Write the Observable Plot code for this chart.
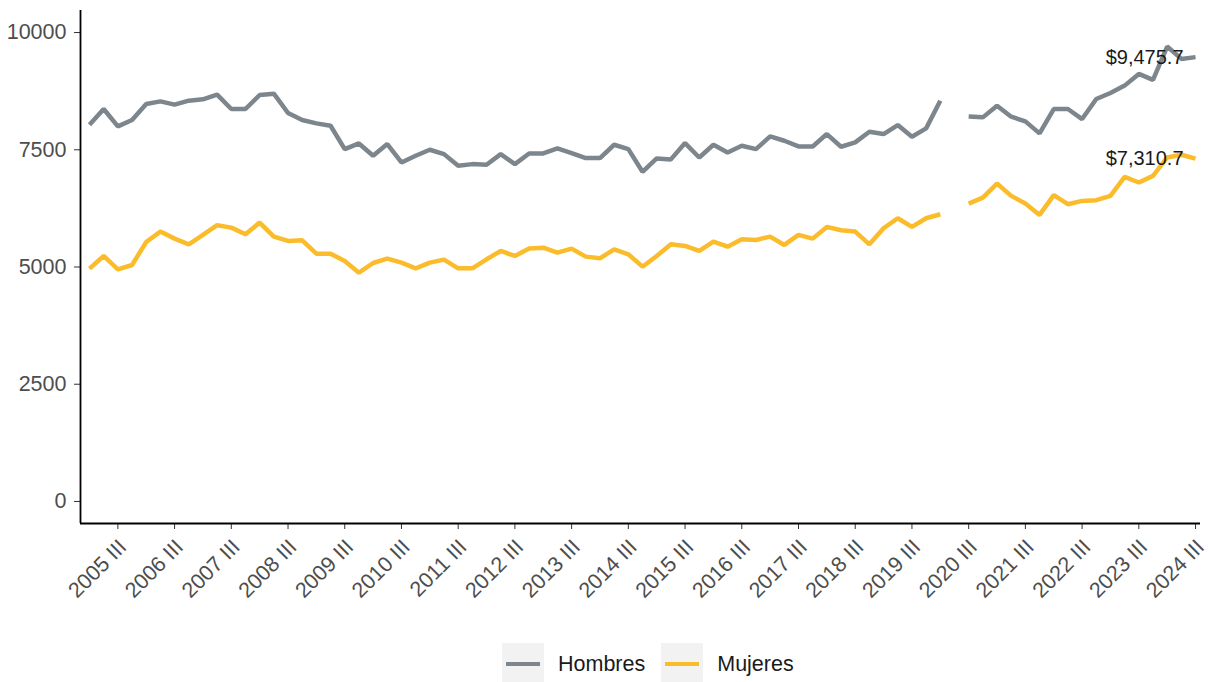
<!DOCTYPE html>
<html>
<head>
<meta charset="utf-8">
<script src="https://cdn.jsdelivr.net/npm/d3@7"></script>
<script src="https://cdn.jsdelivr.net/npm/@observablehq/plot@0.6"></script>
<style>
  html, body { margin: 0; padding: 0; background: #ffffff; }
  body { width: 1210px; height: 682px; overflow: hidden; font-family: "Liberation Sans", Arial, sans-serif; }
  #legend { display: flex; justify-content: flex-start; align-items: center; padding-left: 502px; margin-top: 13px; font-size: 21.5px; color: #1a1a1a; }
  .key { width: 42px; height: 42px; background: #f2f2f2; display: flex; align-items: center; justify-content: center; }
  .key span { display: block; width: 34px; height: 4.5px; }
  .lab { margin-left: 14px; margin-right: 16px; }
</style>
</head>
<body>
<div id="chart"></div>
<div id="legend"></div>
<script>
// Quarterly series, 2005 I .. 2024 III (2020 II missing)
const years = d3.range(2005, 2025);
const quarterNames = ["I", "II", "III", "IV"];
const hombres = [
  8034, 8369, 7998, 8134, 8476, 8532, 8462, 8547, 8575, 8675,
  8369, 8369, 8668, 8697, 8284, 8134, 8063, 8013, 7514, 7635,
  7372, 7621, 7229, 7372, 7500, 7407, 7158, 7194, 7179, 7407,
  7194, 7422, 7422, 7529, 7429, 7322, 7322, 7607, 7514, 7030,
  7315, 7295, 7643, 7336, 7607, 7443, 7586, 7514, 7785, 7692,
  7571, 7571, 7835, 7564, 7657, 7885, 7835, 8027, 7778, 7956,
  8547, null, 8212, 8191, 8440, 8205, 8105, 7849, 8369, 8369,
  8155, 8583, 8711, 8868, 9117, 8989, 9701, 9438, 9475.7
];
const mujeres = [
  4964, 5235, 4950, 5043, 5534, 5755, 5605, 5484, 5684, 5891,
  5840, 5698, 5947, 5648, 5556, 5570, 5285, 5285, 5128, 4879,
  5085, 5178, 5093, 4972, 5093, 5157, 4972, 4972, 5164, 5342,
  5235, 5392, 5413, 5306, 5392, 5221, 5185, 5378, 5271, 5007,
  5235, 5485, 5449, 5342, 5541, 5434, 5591, 5577, 5648, 5470,
  5684, 5605, 5855, 5784, 5755, 5484, 5826, 6040, 5855, 6040,
  6125, null, 6353, 6481, 6780, 6517, 6353, 6111, 6532, 6339,
  6410, 6425, 6517, 6923, 6802, 6944, 7336, 7393, 7310.7
];
const seriesNames = ["Hombres", "Mujeres"];
const seriesColors = ["#7d868c", "#fbbc2b"];
const yTicks = [0, 2500, 5000, 7500, 10000];
const xTickLabels = years.map(y => `${y} III`);

// build period labels and table
const periods = [];
years.forEach(y => quarterNames.forEach(q => periods.push(`${y} ${q}`)));
const n = hombres.length;
const rows = [];
seriesNames.forEach((s, si) => {
  const vals = si === 0 ? hombres : mujeres;
  for (let i = 0; i < n; i++) rows.push({serie: s, i, periodo: periods[i], valor: vals[i]});
});
const lastRows = seriesNames.map((s, si) => {
  const vals = si === 0 ? hombres : mujeres;
  return {serie: s, i: n - 1, valor: vals[n - 1]};
});
const xTickPos = xTickLabels.map(l => periods.indexOf(l));
const xDomain = [-0.635, n - 1 + 0.35];
const yDomain = [-470, 10470];

const fmt = d3.format("$,.1f");

const chart = Plot.plot({
  width: 1210,
  height: 630,
  marginLeft: 80,
  marginRight: 10,
  marginTop: 10,
  marginBottom: 107,
  style: {fontFamily: "'Liberation Sans', Arial, sans-serif", fontSize: "21.5px", background: "#ffffff"},
  x: {domain: xDomain},
  y: {domain: yDomain},
  color: {domain: seriesNames, range: seriesColors},
  marks: [
    Plot.axisY({ticks: yTicks, tickSize: 6, tickPadding: 8, color: "#4d4d4d", stroke: "#333", tickFormat: d => String(d), label: null, fontSize: 21.5}),
    // tick marks only
    Plot.axisX({ticks: xTickPos, tickSize: 6, stroke: "#333", tickFormat: () => "", label: null}),
    // rotated tick labels
    Plot.axisX({ticks: xTickPos, tickSize: 0, tickPadding: 20, dx: 5, tickRotate: -45, color: "#4d4d4d", tickFormat: i => periods[i], label: null, fontSize: 21.5}),
    Plot.ruleX([xDomain[0]], {stroke: "#000", strokeWidth: 1.8}),
    Plot.ruleY([yDomain[0]], {stroke: "#000", strokeWidth: 1.8}),
    Plot.line(rows, {x: "i", y: "valor", z: "serie", stroke: "serie", strokeWidth: 4.5, strokeLinejoin: "miter", strokeLinecap: "butt"}),
    Plot.text(lastRows, {x: "i", y: "valor", text: d => fmt(d.valor), textAnchor: "end", dx: -12, fill: "#1a1a1a", fontSize: 20})
  ]
});
document.getElementById("chart").appendChild(chart);

// legend
const leg = document.getElementById("legend");
seriesNames.forEach((s, si) => {
  const k = document.createElement("div");
  k.className = "key";
  const sp = document.createElement("span");
  sp.style.background = seriesColors[si];
  k.appendChild(sp);
  const t = document.createElement("div");
  t.className = "lab";
  t.textContent = s;
  leg.appendChild(k);
  leg.appendChild(t);
});
</script>
</body>
</html>
